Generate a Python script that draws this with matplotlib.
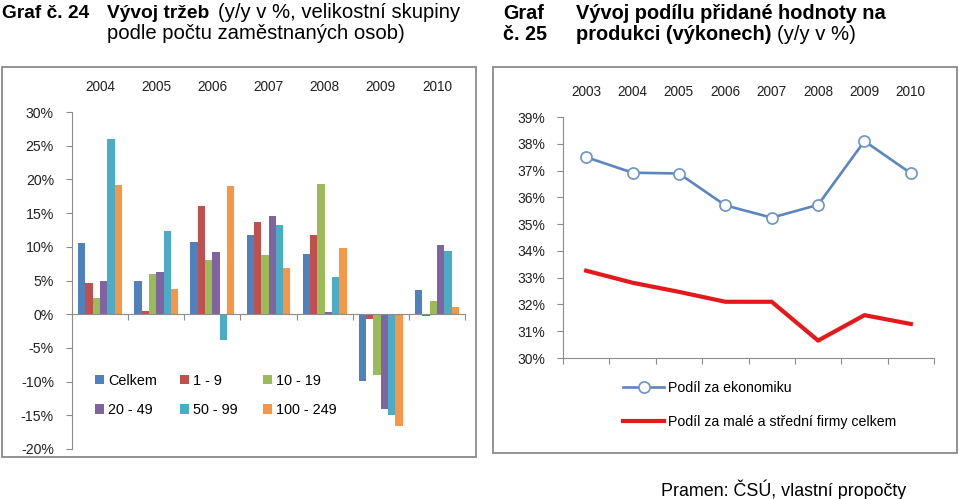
import numpy as np
import matplotlib
matplotlib.use("Agg")
import matplotlib.pyplot as plt
from matplotlib.patches import Rectangle
from matplotlib.legend import Legend
from matplotlib.ticker import PercentFormatter, FixedLocator

plt.rcParams['font.family'] = ['Liberation Sans', 'DejaVu Sans']
plt.rcParams['axes.unicode_minus'] = False

# graf 24 - vyvoj trzeb (y/y v %)
roky24 = ['2004', '2005', '2006', '2007', '2008', '2009', '2010']
skupiny = ['Celkem', '1 - 9', '10 - 19', '20 - 49', '50 - 99', '100 - 249']
celkem = [10.6, 5.0, 10.7, 11.7, 8.9, -9.9, 3.6]
s1_9 = [4.7, 0.45, 16.1, 13.75, 11.7, -0.75, -0.2]
s10_19 = [2.4, 6.0, 8.0, 8.85, 19.3, -9.05, 1.9]
s20_49 = [5.0, 6.3, 9.3, 14.6, 0.3, -14.1, 10.2]
s50_99 = [26.0, 12.4, -3.9, 13.2, 5.5, -15.0, 9.45]
s100_249 = [19.1, 3.75, 19.0, 6.9, 9.75, -16.6, 1.05]
barvy24 = ['#4F81BD', '#C0504D', '#9BBB59', '#8064A2', '#4BACC6', '#F79646']

# graf 25 - podil pridane hodnoty na produkci
roky25 = ['2003', '2004', '2005', '2006', '2007', '2008', '2009', '2010']
ekonomika = [37.5, 36.92, 36.89, 35.7, 35.24, 35.72, 38.1, 36.9]
msp = [33.26, 32.81, 32.47, 32.1, 32.1, 30.65, 31.6, 31.27]

W, H = 960, 499
fig = plt.figure(figsize=(W / 100, H / 100), dpi=100)

def px(x, y, w, h):
    # pixelove souradnice (od leveho horniho rohu) -> figure
    return [x / W, 1 - (y + h) / H, w / W, h / H]

txt = '#222222'
osa = '#8C8C8C'

# ramecky
fig.add_artist(Rectangle((2 / W, 1 - 457 / H), 474 / W, 390 / H, transform=fig.transFigure,
                         fill=False, ec='#8A8A8A', lw=1.3))
fig.add_artist(Rectangle((493 / W, 1 - 453 / H), 464 / W, 386 / H, transform=fig.transFigure,
                         fill=False, ec='#8A8A8A', lw=1.3))

# titulky
fb = 13.8
fn = 14.6
fig.text(2 / W, 1 - 18 / H, 'Graf č. 24', fontsize=fb, weight='bold', va='baseline')
fig.text(107 / W, 1 - 18 / H, 'Vývoj tržeb', fontsize=fb, weight='bold', va='baseline')
fig.text(218 / W, 1 - 18 / H, '(y/y v %, velikostní skupiny', fontsize=fn, va='baseline')
fig.text(107 / W, 1 - 39 / H, 'podle počtu zaměstnaných osob)', fontsize=fn, va='baseline')

fig.text(503 / W, 1 - 19 / H, 'Graf', fontsize=14.2, weight='bold', va='baseline')
fig.text(503 / W, 1 - 40 / H, 'č. 25', fontsize=14.2, weight='bold', va='baseline')
fig.text(576 / W, 1 - 19 / H, 'Vývoj podílu přidané hodnoty na', fontsize=14.4, weight='bold', va='baseline')
fig.text(576 / W, 1 - 40 / H, 'produkci (výkonech)', fontsize=14.4, weight='bold', va='baseline')
fig.text(777 / W, 1 - 40 / H, '(y/y v %)', fontsize=fn, va='baseline')

fig.text(661 / W, 1 - 496 / H, 'Pramen: ČSÚ, vlastní propočty', fontsize=12.9, va='baseline')

# ---- graf 24 ----
ax1 = fig.add_axes(px(72, 112, 393, 337))
x = np.arange(len(roky24))
bw = 0.13
rady = [celkem, s1_9, s10_19, s20_49, s50_99, s100_249]
handles = []
for i, (vals, c, lab) in enumerate(zip(rady, barvy24, skupiny)):
    b = ax1.bar(x + (i - 2.5) * bw, vals, bw, color=c, label=lab, lw=0)
    handles.append(b)

ax1.set_xlim(-0.5, len(roky24) - 0.5)
ax1.set_ylim(-20, 30)
ax1.set_yticks(np.arange(-20, 31, 5))
ax1.yaxis.set_major_formatter(PercentFormatter(100, decimals=0))
for s in ['top', 'right']:
    ax1.spines[s].set_visible(False)
ax1.spines['bottom'].set_position(('data', 0))
ax1.spines['left'].set_color(osa)
ax1.spines['bottom'].set_color(osa)
ax1.xaxis.set_major_locator(FixedLocator(np.arange(-0.5, len(roky24), 1)))
ax1.set_xticklabels([])
ax1.tick_params(axis='x', direction='out', length=4, color=osa)
ax1.tick_params(axis='y', direction='out', length=4, color=osa, pad=9,
                labelsize=10.2, labelcolor=txt)
top1 = ax1.secondary_xaxis('top')
top1.set_xticks(x, roky24)
top1.tick_params(length=0, pad=13, labelsize=9.8, labelcolor=txt)
top1.spines['top'].set_visible(False)

# legenda po sloupcich (Excel ma sloupce stejne siroke)
sloupce_x = [95, 180, 263]
for j, sx in enumerate(sloupce_x):
    leg = Legend(ax1, [handles[j], handles[j + 3]], [skupiny[j], skupiny[j + 3]],
                 loc='upper left', bbox_to_anchor=(sx / W, 1 - 374 / H),
                 bbox_transform=fig.transFigure, frameon=False, fontsize=10.4,
                 handlelength=0.6, handleheight=0.6, handletextpad=0.3,
                 labelspacing=1.05, borderaxespad=0, borderpad=0)
    ax1.add_artist(leg)

# ---- graf 25 ----
ax2 = fig.add_axes(px(563, 117, 371, 241))
x2 = np.arange(len(roky25))
ax2.plot(x2, ekonomika, color='#5B86BE', lw=1.9, marker='o', ms=8, mfc='white',
         mec='#6C93C6', mew=1.2, label='Podíl za ekonomiku')
ax2.plot(x2, msp, color='#E3191C', lw=3.0, label='Podíl za malé a střední firmy celkem')
ax2.set_xlim(-0.5, len(roky25) - 0.5)
ax2.set_ylim(30, 39)
ax2.set_yticks(np.arange(30, 40, 1))
ax2.yaxis.set_major_formatter(PercentFormatter(100, decimals=0))
for s in ['top', 'right']:
    ax2.spines[s].set_visible(False)
ax2.spines['left'].set_color(osa)
ax2.spines['bottom'].set_color(osa)
ax2.xaxis.set_major_locator(FixedLocator(np.arange(-0.5, len(roky25), 1)))
ax2.set_xticklabels([])
ax2.tick_params(axis='x', direction='out', length=4, color=osa)
ax2.tick_params(axis='y', direction='out', length=4, color=osa, pad=9,
                labelsize=10.0, labelcolor=txt)
top2 = ax2.secondary_xaxis('top')
top2.set_xticks(x2, roky25)
top2.tick_params(length=0, pad=13, labelsize=9.8, labelcolor=txt)
top2.spines['top'].set_visible(False)

ax2.legend(loc='upper left', bbox_to_anchor=(623 / W, 1 - 381 / H), bbox_transform=fig.transFigure,
           frameon=False, fontsize=10.2, handlelength=2.9, handletextpad=0.3,
           labelspacing=1.38, borderaxespad=0, borderpad=0)

fig.savefig('out.png', dpi=100)
